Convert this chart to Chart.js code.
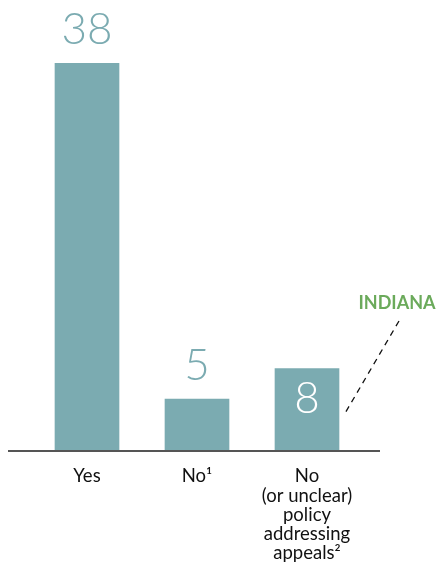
<!DOCTYPE html>
<html><head><meta charset="utf-8">
<script src="https://cdn.jsdelivr.net/npm/chart.js@4"></script>
<style>html,body{margin:0;padding:0;background:#fff}#w{width:440px;height:571px}</style>
</head><body><div id="w"><canvas id="c"></canvas></div>
<script>
const categories = [["Yes"], ["No\u00B9"], ["No", "(or unclear)", "policy", "addressing", "appeals\u00B2"]];
const values = [38, 5, 8];
const insideLabel = [false, false, true];
const calloutText = "INDIANA";
const calloutIndex = 2;

const teal = "#7BABB1";
const fontFam = "Lato, 'Open Sans', sans-serif";

const labelsPlugin = {
  id: "labels",
  afterDatasetsDraw(chart) {
    const ctx = chart.ctx;
    const meta = chart.getDatasetMeta(0);
    const area = chart.chartArea;
    ctx.save();
    // baseline
    ctx.strokeStyle = "#555";
    ctx.lineWidth = 2;
    ctx.beginPath();
    ctx.moveTo(8, area.bottom + 1);
    ctx.lineTo(380, area.bottom + 1);
    ctx.stroke();
    ctx.font = "300 44px " + fontFam;
    ctx.textAlign = "center";
    ctx.textBaseline = "middle";
    meta.data.forEach((bar, i) => {
      if (insideLabel[i]) {
        ctx.fillStyle = "#fff";
        ctx.fillText(String(values[i]), bar.x, bar.y + 30);
      } else {
        ctx.fillStyle = teal;
        ctx.fillText(String(values[i]), bar.x, bar.y - 33);
      }
    });
    // callout
    const b = meta.data[calloutIndex];
    ctx.fillStyle = "#6BAA5B";
    ctx.font = "bold 18px " + fontFam;
    ctx.fillText(calloutText, 397, 303);
    ctx.strokeStyle = "#111";
    ctx.lineWidth = 1.3;
    ctx.setLineDash([6, 5]);
    ctx.beginPath();
    ctx.moveTo(399, 321);
    ctx.lineTo(b.x + 37, 415);
    ctx.stroke();
    ctx.restore();
  }
};

new Chart(document.getElementById("c"), {
  type: "bar",
  data: { labels: categories, datasets: [{ data: values, backgroundColor: teal, barThickness: 64 }] },
  options: {
    responsive: true, maintainAspectRatio: false, animation: false,
    layout: { padding: { top: 63, left: 32, right: 78, bottom: 0 } },
    plugins: { legend: { display: false }, tooltip: { enabled: false } },
    scales: {
      y: { min: 0, max: 38, display: false },
      x: {
        afterFit(scale) { scale.height = 121; },
        grid: { display: false, drawTicks: false },
        border: { display: false },
        ticks: { color: "#111", font: { family: fontFam, size: 18.5, lineHeight: 1.03 }, padding: 17, maxRotation: 0, autoSkip: false }
      }
    }
  },
  plugins: [labelsPlugin]
});
</script></body></html>
